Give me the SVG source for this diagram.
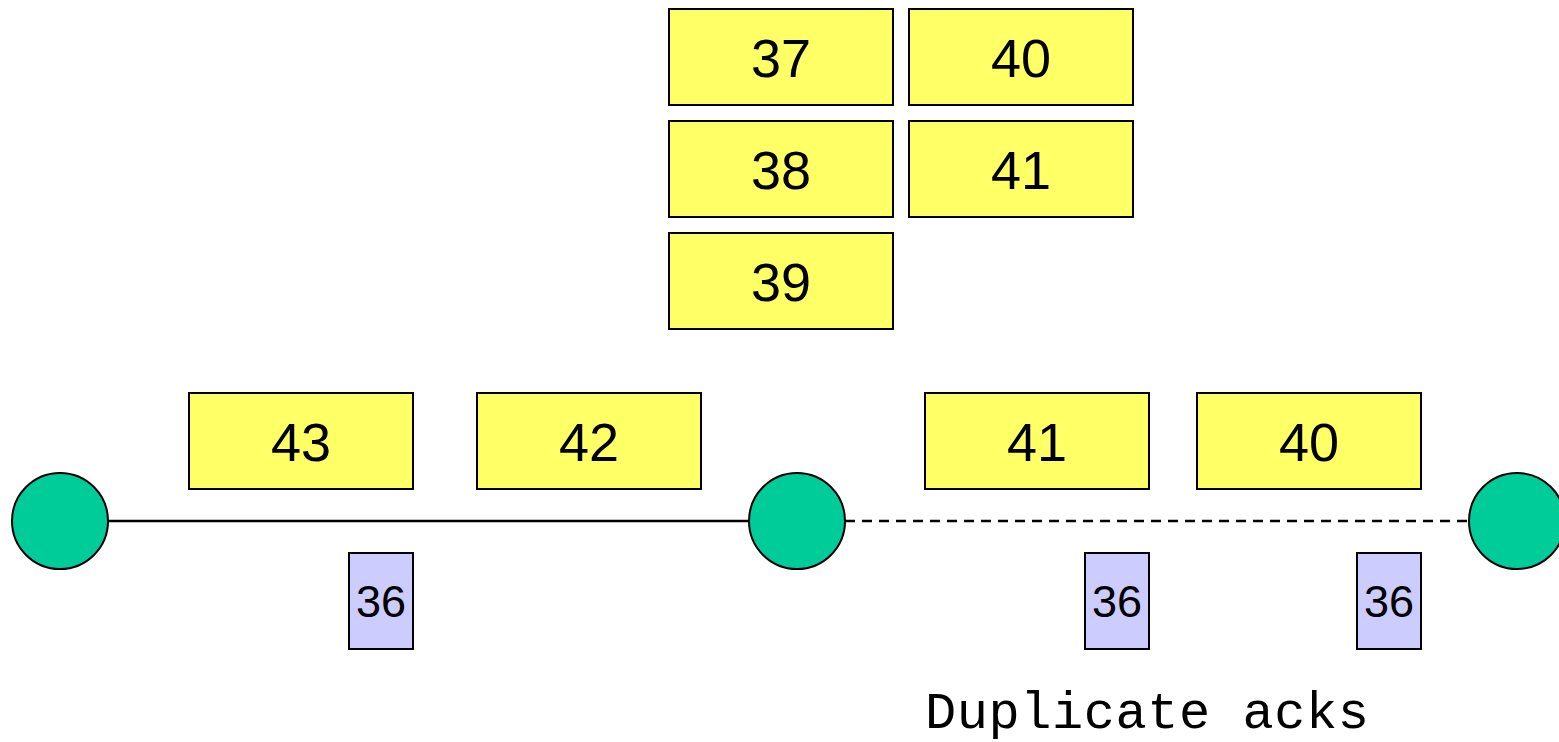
<svg xmlns="http://www.w3.org/2000/svg" width="1559" height="742" viewBox="0 0 1559 742">
  <style>
    .seg { fill: #FFFF66; stroke: #000; stroke-width: 2; }
    .ack { fill: #CCCCFF; stroke: #000; stroke-width: 2; }
    .host { fill: #00CC99; stroke: #000; stroke-width: 2; }
    .lbl { font-family: "Liberation Sans", Arial, sans-serif; font-size: 54px; fill: #000; text-anchor: middle; }
    .albl { font-family: "Liberation Sans", Arial, sans-serif; font-size: 45px; fill: #000; text-anchor: middle; }
    .note { font-family: "Liberation Mono", "Courier New", monospace; font-size: 52px; fill: #000; }
    .link { stroke: #000; stroke-width: 2.5; fill: none; }
    .dash { stroke-dasharray: 10 7; }
  </style>

  <!-- links between hosts -->
  <g id="connectors">
    <line class="link" x1="108" y1="521" x2="749" y2="521"/>
    <line class="link dash" x1="845" y1="521" x2="1469" y2="521"/>
  </g>

  <!-- buffered segments at router -->
  <g id="seg-37"><rect class="seg" x="669" y="9" width="224" height="96"/><text class="lbl" x="781" y="77">37</text></g>
  <g id="seg-40-buf"><rect class="seg" x="909" y="9" width="224" height="96"/><text class="lbl" x="1021" y="77">40</text></g>
  <g id="seg-38"><rect class="seg" x="669" y="121" width="224" height="96"/><text class="lbl" x="781" y="189">38</text></g>
  <g id="seg-41-buf"><rect class="seg" x="909" y="121" width="224" height="96"/><text class="lbl" x="1021" y="189">41</text></g>
  <g id="seg-39"><rect class="seg" x="669" y="233" width="224" height="96"/><text class="lbl" x="781" y="301">39</text></g>

  <!-- segments in flight -->
  <g id="seg-43"><rect class="seg" x="189" y="393" width="224" height="96"/><text class="lbl" x="301" y="461">43</text></g>
  <g id="seg-42"><rect class="seg" x="477" y="393" width="224" height="96"/><text class="lbl" x="589" y="461">42</text></g>
  <g id="seg-41"><rect class="seg" x="925" y="393" width="224" height="96"/><text class="lbl" x="1037" y="461">41</text></g>
  <g id="seg-40"><rect class="seg" x="1197" y="393" width="224" height="96"/><text class="lbl" x="1309" y="461">40</text></g>

  <!-- hosts -->
  <g id="sender"><circle class="host" cx="60" cy="521" r="48"/></g>
  <g id="router"><circle class="host" cx="797" cy="521" r="48"/></g>
  <g id="receiver"><circle class="host" cx="1517" cy="521" r="48"/></g>

  <!-- acks -->
  <g id="ack-1"><rect class="ack" x="349" y="553" width="64" height="96"/><text class="albl" x="381" y="617">36</text></g>
  <g id="ack-2"><rect class="ack" x="1085" y="553" width="64" height="96"/><text class="albl" x="1117" y="617">36</text></g>
  <g id="ack-3"><rect class="ack" x="1357" y="553" width="64" height="96"/><text class="albl" x="1389" y="617">36</text></g>

  <g id="caption"><text class="note" x="925" y="728" textLength="444" lengthAdjust="spacing">Duplicate acks</text></g>
</svg>
